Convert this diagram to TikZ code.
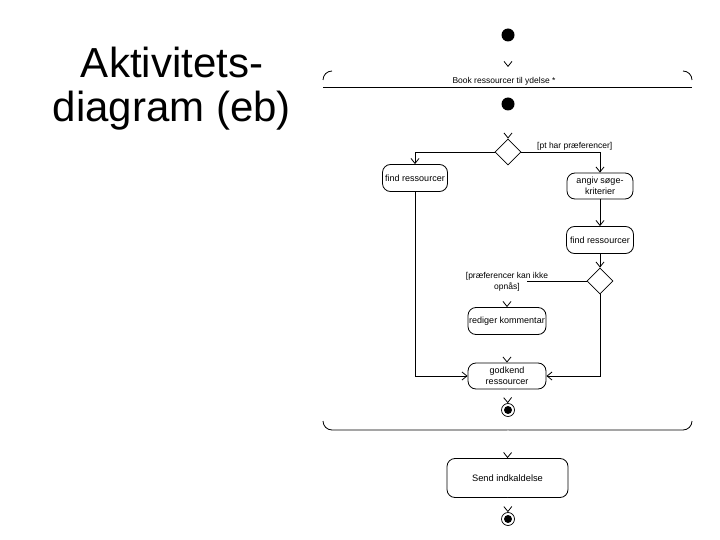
\documentclass[tikz,border=0pt]{standalone}
\usepackage{fontspec}
\setmainfont{Liberation Sans}
\usetikzlibrary{arrows.meta,shapes.geometric}
\newcommand{\smf}{\fontsize{8.5}{11}\selectfont}
\newcommand{\actf}{\fontsize{9}{11}\selectfont}
\tikzset{
  act/.style={draw, rounded corners=8pt, line width=0.8pt, inner sep=0pt, align=center, font=\actf},
  dec/.style={draw, diamond, shape aspect=1, minimum width=26pt, minimum height=26pt, inner sep=0pt, line width=0.8pt},
  initial/.style={circle, fill=black, minimum size=13pt, inner sep=0pt},
  final/.style={circle, draw, line width=0.7pt, minimum size=13pt, inner sep=0pt,
    path picture={\fill[black] (path picture bounding box.center) circle (4pt);}},
  flow/.style={draw, line width=0.8pt, -{Straight Barb[length=5pt,width=8pt]}},
  ghost/.style={draw=white, line width=0.8pt, -{Straight Barb[length=5pt,width=8pt,color=black]}},
  region/.style={draw, line width=0.8pt},
  lbl/.style={inner sep=0pt, font=\smf, align=center}
}
\begin{document}
\begin{tikzpicture}[x=1pt,y=-1pt]
\useasboundingbox (0,0) rectangle (720,540);
% title
\node[inner sep=0pt, align=center, font=\fontsize{42}{44}\selectfont] (title) at (172,89) {Aktivitets-\\diagram (eb)};

% expansion region pieces
\draw[region] (323,80) arc[start angle=180,end angle=270,radius=9];
\draw[region] (683,71) arc[start angle=270,end angle=360,radius=9];
\draw[region] (323,87) -- (692,87);
\draw[region] (323,421) arc[start angle=180,end angle=90,radius=9] -- (683,430) arc[start angle=90,end angle=0,radius=9];
\node[lbl] (regionlbl) at (504,81) {Book ressourcer til ydelse *};
\coordinate (regtop) at (508,67);
\coordinate (regbot) at (508,430);

% nodes
\node[initial] (i1) at (508,35) {};
\node[initial] (i2) at (508,104) {};
\node[dec] (d1) at (508,152) {};
\node[act, minimum width=65pt, minimum height=27pt] (find1) at (415,178) {find ressourcer};
\node[act, minimum width=66pt, minimum height=26pt] (angiv) at (600,186) {angiv søge-\\kriterier};
\node[act, minimum width=67pt, minimum height=27pt] (find2) at (600,240) {find ressourcer};
\node[dec] (d2) at (600,281) {};
\node[act, minimum width=78pt, minimum height=27pt] (rediger) at (507,321) {rediger kommentar};
\node[act, minimum width=78pt, minimum height=26pt] (godkend) at (507,376) {godkend\\ressourcer};
\node[final] (f1) at (508,410) {};
\node[act, minimum width=121pt, minimum height=39pt, font=\fontsize{9.3}{11}\selectfont] (send) at (507.5,478) {Send indkaldelse};
\node[final] (f2) at (508,519) {};

% connectors
\draw[ghost] (i1) -- (regtop);
\draw[ghost] (i2) -- (d1.north);
\draw[flow] (d1.west) -| (find1.north);
\draw[flow] (d1.east) -| (angiv.north);
\draw[flow] (angiv) -- (find2);
\draw[flow] (find2) -- (d2.north);
\coordinate (c1) at (527,281);
\draw[ghost] (c1) -| (rediger.north);
\draw[region] (d2.west) -- (c1);
\draw[ghost] (rediger) -- (godkend);
\draw[flow] (find1.south) |- (godkend.west);
\draw[flow] (d2.south) |- (godkend.east);
\draw[ghost] (godkend) -- (f1);
\draw[ghost] (regbot) -- (send.north);
\draw[ghost] (send) -- (f2);

% guard labels
\node[lbl, anchor=west] (g1) at (537,146) {[pt har præferencer]};
\node[lbl] (g2) at (507,282) {[præferencer kan ikke\\opnås]};
\end{tikzpicture}
\end{document}
